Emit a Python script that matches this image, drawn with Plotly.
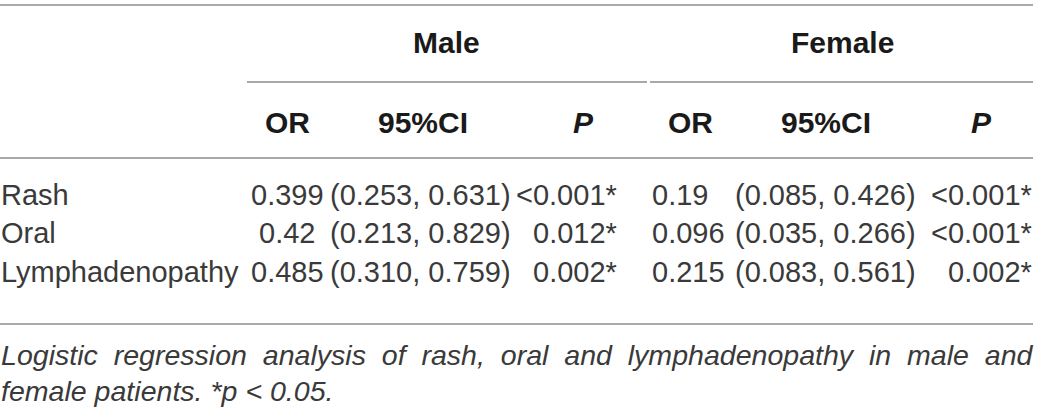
import plotly.graph_objects as go

# table contents
groups = ['Male', 'Female']
sub_headers = ['OR', '95%CI', '<i>P</i>']
row_labels = ['Rash', 'Oral', 'Lymphadenopathy']
male_or = ['0.399', '0.42', '0.485']
male_ci = ['(0.253, 0.631)', '(0.213, 0.829)', '(0.310, 0.759)']
male_p = ['<0.001*', '0.012*', '0.002*']
female_or = ['0.19', '0.096', '0.215']
female_ci = ['(0.085, 0.426)', '(0.035, 0.266)', '(0.083, 0.561)']
female_p = ['<0.001*', '<0.001*', '0.002*']
caption = ['Logistic  regression  analysis  of  rash,  oral  and  lymphadenopathy  in  male  and',
           'female patients. *p < 0.05.']

W, H = 1040, 410
FONT = 'Liberation Sans'
BODY = '#3a3a3a'
HEAD = '#1a1a1a'
RULE = '#8c8c8c'

fig = go.Figure()


def txt(x, y, s, anchor='center', bold=False, italic=False, color=BODY, size=29):
    s = s.replace('<0', '&lt;0').replace(' < ', ' &lt; ')
    if bold:
        s = '<b>' + s + '</b>'
    if italic:
        s = '<i>' + s + '</i>'
    fig.add_annotation(x=x, y=y, text=s, showarrow=False, xanchor=anchor, yanchor='middle',
                       font=dict(family=FONT, size=size, color=color), xref='x', yref='y',
                       borderpad=0)


def rule(x0, x1, y):
    fig.add_shape(type='line', x0=x0, x1=x1, y0=y, y1=y, xref='x', yref='y',
                  line=dict(color=RULE, width=1.5))


# rules
rule(0, 1033, 5)
rule(247, 647, 82)
rule(650, 1033, 82)
rule(0, 1033, 158)
rule(0, 1033, 324)

# group headers
txt(446, 42, groups[0], bold=True, color=HEAD, size=30)
txt(842, 42, groups[1], bold=True, color=HEAD, size=30)

# sub headers
for xs in ([287, 423, 583], [690, 826, 981]):
    for x, s in zip(xs, sub_headers):
        txt(x, 122, s, bold=True, color=HEAD, size=30)

# body rows
row_y = [195, 233, 272]
for i, y in enumerate(row_y):
    txt(0, y, row_labels[i], anchor='left')
    txt(287, y, male_or[i])
    txt(420, y, male_ci[i])
    txt(618, y, male_p[i], anchor='right')
    txt(651, y, female_or[i], anchor='left')
    txt(825, y, female_ci[i])
    txt(1033, y, female_p[i], anchor='right')

# caption (first line stretched to the table width, like justified text)
txt(0, 355, caption[0], anchor='left', italic=True, size=28.55)
txt(0, 391, caption[1], anchor='left', italic=True, size=28.55)

fig.update_xaxes(range=[0, W], visible=False, fixedrange=True)
fig.update_yaxes(range=[H, 0], visible=False, fixedrange=True)
fig.update_layout(width=W, height=H, margin=dict(l=0, r=0, t=0, b=0),
                  plot_bgcolor='white', paper_bgcolor='white', showlegend=False)

# page body has a default 8px margin, drop it so the table sits at the corner
fig.write_html('out.html', config={'displayModeBar': False},
               post_script="document.body.style.margin='0';document.body.style.overflow='hidden';")
